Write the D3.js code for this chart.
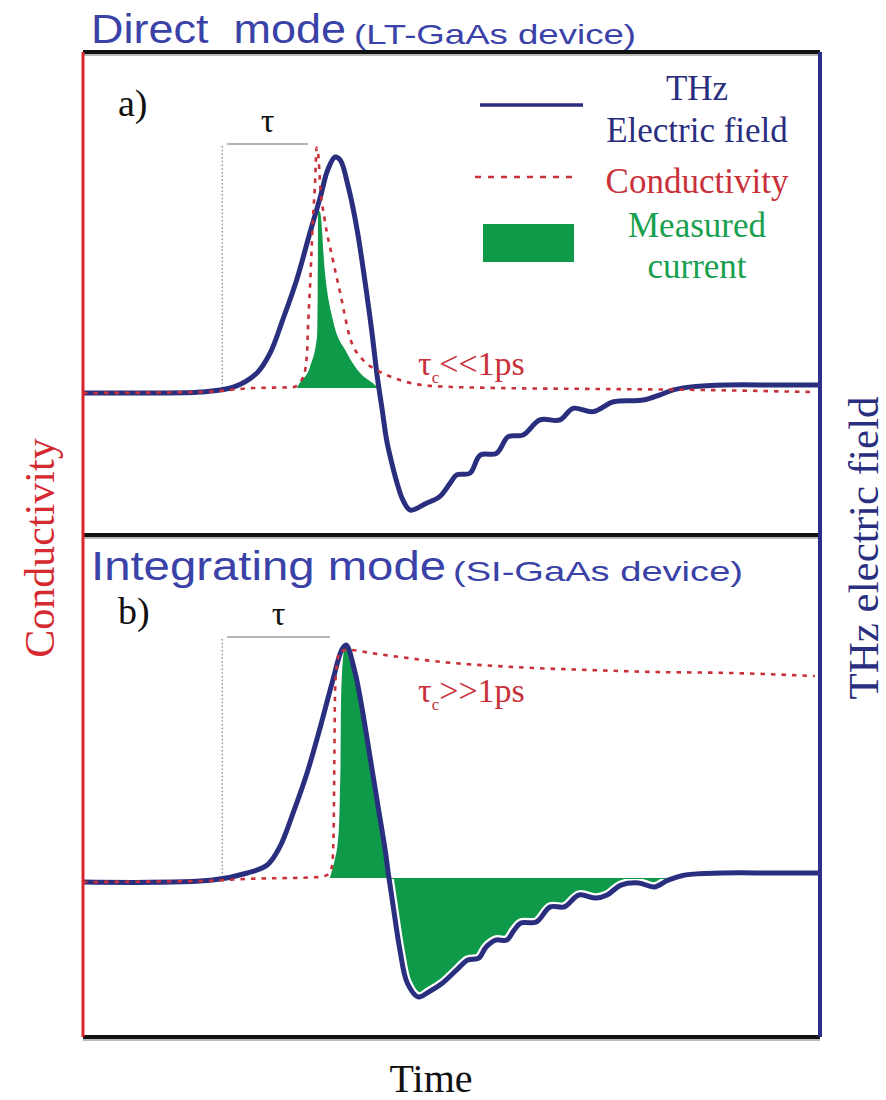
<!DOCTYPE html>
<html>
<head>
<meta charset="utf-8">
<script src="https://cdn.jsdelivr.net/npm/d3@7"></script>
<style>
  html, body { margin: 0; padding: 0; background: #fff; }
  svg { display: block; }
  text { white-space: pre; }
</style>
</head>
<body>
<svg id="chart" width="886" height="1100"></svg>
<script>
// Time in ps (frame spans 0-10 ps); field and conductivity in normalised units (peak field = 1)

// a) Direct mode, LT-GaAs
const fieldDirect = [
  [0, 0], [0.91, 0], [1.59, 0.004], [2.04, 0.025], [2.36, 0.085], [2.54, 0.17], [2.71, 0.31],
  [2.90, 0.48], [3.08, 0.68], [3.22, 0.83], [3.32, 0.945], [3.42, 1.0], [3.49, 0.987],
  [3.60, 0.873], [3.72, 0.69], [3.85, 0.42], [3.92, 0.258], [3.99, 0.076], [4.06, -0.072],
  [4.12, -0.2], [4.19, -0.297], [4.26, -0.38], [4.34, -0.453], [4.44, -0.496], [4.66, -0.467],
  [4.84, -0.439], [4.98, -0.383], [5.07, -0.347], [5.25, -0.340], [5.39, -0.263], [5.61, -0.256],
  [5.77, -0.185], [5.97, -0.178], [6.20, -0.114], [6.47, -0.114], [6.65, -0.065], [6.92, -0.079],
  [7.20, -0.037], [7.60, -0.030], [7.83, -0.008], [8.01, 0.013], [8.28, 0.027], [8.73, 0.034],
  [9.40, 0.034], [10, 0.034]
];
const condDirect = [
  [0, 0], [1.59, 0.004], [2.31, 0.021], [2.85, 0.025], [2.99, 0.068], [3.04, 0.17], [3.05, 0.254],
  [3.08, 0.449], [3.12, 0.733], [3.15, 0.90], [3.17, 1.04], [3.19, 1.017], [3.22, 0.873],
  [3.28, 0.733], [3.39, 0.564], [3.49, 0.424], [3.62, 0.237], [3.80, 0.14], [3.99, 0.097],
  [4.30, 0.055], [4.71, 0.03], [5.66, 0.021], [7.01, 0.017], [8.37, 0.013], [9.91, 0.004]
];
const currentDirect = [
  [2.90, 0.021], [2.94, 0.042], [3.08, 0.11], [3.175, 0.237], [3.185, 0.449], [3.19, 0.775],
  [3.22, 0.763], [3.28, 0.52], [3.39, 0.31], [3.58, 0.17], [3.76, 0.085], [3.93, 0.042], [4.01, 0.021]
];
const currentBaseDirect = 0.021;

// b) Integrating mode, SI-GaAs
const fieldIntegrating = [
  [0, 0], [1.76, 0.008], [2.23, 0.038], [2.50, 0.072], [2.67, 0.148], [2.85, 0.291], [3.04, 0.46],
  [3.22, 0.654], [3.39, 0.852], [3.51, 0.979], [3.57, 1.0], [3.69, 0.886], [3.79, 0.726],
  [3.89, 0.536], [4.00, 0.325], [4.10, 0.135], [4.14, 0.042], [4.21, -0.105], [4.30, -0.287],
  [4.40, -0.426], [4.55, -0.485], [4.69, -0.464], [4.88, -0.426], [5.07, -0.371], [5.22, -0.329],
  [5.37, -0.321], [5.47, -0.274], [5.60, -0.245], [5.75, -0.245], [5.85, -0.203], [5.94, -0.173],
  [6.15, -0.169], [6.34, -0.105], [6.53, -0.105], [6.73, -0.055], [6.96, -0.068], [7.11, -0.055],
  [7.30, -0.013], [7.54, -0.004], [7.75, -0.021], [7.94, 0.008], [8.18, 0.03], [8.66, 0.038],
  [9.40, 0.038], [10, 0.038]
];
const condIntegrating = [
  [0, 0], [1.59, 0.004], [2.23, 0.013], [3.22, 0.021], [3.34, 0.035], [3.38, 0.07], [3.40, 0.2],
  [3.41, 0.5], [3.42, 0.8], [3.45, 0.93], [3.49, 0.975], [3.62, 0.979], [3.91, 0.966],
  [4.88, 0.928], [5.85, 0.907], [6.82, 0.895], [7.79, 0.886], [8.77, 0.882], [9.93, 0.869]
];
const currentIntegrating = [
  [3.35, 0.017], [3.45, 0.148], [3.49, 0.43], [3.51, 0.852], [3.55, 0.99], [3.57, 1.0],
  [3.69, 0.886], [3.79, 0.726], [3.89, 0.536], [4.00, 0.325], [4.10, 0.135], [4.14, 0.042],
  [4.21, -0.105], [4.30, -0.287], [4.40, -0.426], [4.55, -0.485], [4.69, -0.464], [4.88, -0.426],
  [5.07, -0.371], [5.22, -0.329], [5.37, -0.321], [5.47, -0.274], [5.60, -0.245], [5.75, -0.245],
  [5.85, -0.203], [5.94, -0.173], [6.15, -0.169], [6.34, -0.105], [6.53, -0.105], [6.73, -0.055],
  [6.96, -0.068], [7.11, -0.055], [7.30, -0.013], [7.54, -0.004], [7.75, -0.021], [7.94, 0.017]
];
const currentBaseIntegrating = 0.017;

// delay marker: start of the THz pulse to the conductivity rise (ps)
const tauStart = 1.89;
const tauEndDirect = 3.05;
const tauEndIntegrating = 3.35;

// text
const panelTitles = ["Direct  mode", "Integrating mode"];
const panelDevices = ["(LT-GaAs device)", "(SI-GaAs device)"];
const panelLetters = ["a)", "b)"];
const lifetimeLabels = ["<<1ps", ">>1ps"];
const legendLabels = [["THz", "Electric field"], ["Conductivity"], ["Measured", "current"]];
const axisLabels = { time: "Time", left: "Conductivity", right: "THz electric field" };

// ---------------------------------------------------------------------------
const NAVY = "#2a2e7e", RED = "#c9313a", GREEN = "#0f9a4a", TITLE = "#3a42a8";
const SERIF = "'Liberation Serif', 'Times New Roman', serif";
const SANS = "'Liberation Sans', Arial, sans-serif";

const frame = { left: 83, right: 820, top: 52, mid: 535, bottom: 1037 };
const svg = d3.select("#chart");
svg.append("rect").attr("width", 886).attr("height", 1100).attr("fill", "#fff");

const x = d3.scaleLinear().domain([0, 10]).range([frame.left, frame.right]);

const panels = [
  { field: fieldDirect, cond: condDirect, current: currentDirect, base: currentBaseDirect,
    y: d3.scaleLinear().domain([0, 1]).range([393, 157]), tauEnd: tauEndDirect, tauTop: 1.055,
    halo: false, currentCurve: d3.curveMonotoneX, titleY: 43, titleW: 255, devX: 354, devW: 282,
    letterY: 116, lifeY: 375, bottom: frame.mid },
  { field: fieldIntegrating, cond: condIntegrating, current: currentIntegrating, base: currentBaseIntegrating,
    y: d3.scaleLinear().domain([0, 1]).range([882, 645]), tauEnd: tauEndIntegrating, tauTop: 1.034,
    halo: true, currentCurve: d3.curveCatmullRom.alpha(0.5), titleY: 580, titleW: 355, devX: 453, devW: 290,
    letterY: 624, lifeY: 702, bottom: frame.bottom }
];

const defs = svg.append("defs");

panels.forEach((p, i) => {
  const y = p.y;
  const g = svg.append("g").attr("class", "panel-" + i);

  const fieldLine = d3.line().x(d => x(d[0])).y(d => y(d[1])).curve(d3.curveCatmullRom.alpha(0.5));
  const condLine = d3.line().x(d => x(d[0])).y(d => y(d[1])).curve(d3.curveMonotoneX);
  const area = d3.area().x(d => x(d[0])).y0(y(p.base)).y1(d => y(d[1])).curve(p.currentCurve);

  // measured current
  g.append("path").attr("d", area(p.current)).attr("fill", GREEN);

  // delay marker
  const tauY = y(p.tauTop);
  g.append("line")
    .attr("x1", x(tauStart)).attr("x2", x(tauStart))
    .attr("y1", tauY + 2).attr("y2", y(0.02))
    .attr("stroke", "#8a8a8a").attr("stroke-width", 1.3).attr("stroke-dasharray", "1.5,2.2");
  g.append("line")
    .attr("x1", x(tauStart) + 5).attr("x2", x(p.tauEnd))
    .attr("y1", tauY).attr("y2", tauY)
    .attr("stroke", "#9a9a9a").attr("stroke-width", 1.6);
  g.append("text")
    .attr("x", (x(tauStart) + 5 + x(p.tauEnd)) / 2).attr("y", tauY - 12)
    .attr("text-anchor", "middle").attr("font-family", SERIF).attr("font-size", 34)
    .attr("fill", "#111").text("τ");

  // THz field (white halo below the baseline separates it from the fill)
  if (p.halo) {
    const cid = "below-" + i;
    defs.append("clipPath").attr("id", cid).append("rect")
      .attr("x", frame.left).attr("width", frame.right - frame.left)
      .attr("y", y(p.base) + 1).attr("height", p.bottom - y(p.base));
    g.append("path").attr("d", fieldLine(p.field)).attr("fill", "none")
      .attr("stroke", "#fff").attr("stroke-width", 9.5).attr("clip-path", `url(#${cid})`);
  }
  g.append("path").attr("d", fieldLine(p.field)).attr("fill", "none")
    .attr("stroke", NAVY).attr("stroke-width", 5).attr("stroke-linejoin", "round");

  // conductivity
  g.append("path").attr("d", condLine(p.cond)).attr("fill", "none")
    .attr("stroke", RED).attr("stroke-width", 2.6).attr("stroke-dasharray", "4.5,6");

  // lifetime label
  const life = g.append("text").attr("x", 418).attr("y", p.lifeY)
    .attr("font-family", SERIF).attr("font-size", 34).attr("fill", RED);
  life.append("tspan").text("τ");
  life.append("tspan").attr("font-size", 17).attr("dy", 8).text("c");
  life.append("tspan").attr("dy", -8).text(lifetimeLabels[i]);

  // panel letter
  g.append("text").attr("x", 118).attr("y", p.letterY)
    .attr("font-family", SERIF).attr("font-size", 38).attr("fill", "#111").text(panelLetters[i]);

  // panel title
  g.append("text").attr("x", 91).attr("y", p.titleY)
    .attr("font-family", SANS).attr("font-size", 41).attr("fill", TITLE)
    .attr("textLength", p.titleW).attr("lengthAdjust", "spacingAndGlyphs")
    .text(panelTitles[i]);
  g.append("text").attr("x", p.devX).attr("y", p.titleY + 1)
    .attr("font-family", SANS).attr("font-size", 28).attr("fill", TITLE)
    .attr("textLength", p.devW).attr("lengthAdjust", "spacingAndGlyphs")
    .text(panelDevices[i]);
});

// legend
const lg = svg.append("g").attr("class", "legend");
lg.append("line").attr("x1", 480).attr("x2", 583).attr("y1", 105).attr("y2", 105)
  .attr("stroke", NAVY).attr("stroke-width", 3.5);
lg.append("line").attr("x1", 475).attr("x2", 577).attr("y1", 177).attr("y2", 177)
  .attr("stroke", RED).attr("stroke-width", 2.4).attr("stroke-dasharray", "6,7");
lg.append("rect").attr("x", 483).attr("y", 224).attr("width", 91).attr("height", 38).attr("fill", GREEN);
const legendColors = [NAVY, RED, "#18a04f"];
const legendBaselines = [[100, 142], [193], [237, 278]];
legendLabels.forEach((lines, k) => {
  lines.forEach((t, j) => {
    lg.append("text").attr("x", 697).attr("y", legendBaselines[k][j])
      .attr("text-anchor", "middle").attr("font-family", SERIF).attr("font-size", 35)
      .attr("fill", legendColors[k]).text(t);
  });
});

// frame
const fr = svg.append("g").attr("class", "frame");
[frame.top, frame.mid, frame.bottom].forEach(yy => {
  fr.append("line").attr("x1", frame.left).attr("x2", frame.right).attr("y1", yy + 3).attr("y2", yy + 3)
    .attr("stroke", "#bbb").attr("stroke-width", 2);
  fr.append("line").attr("x1", frame.left).attr("x2", frame.right).attr("y1", yy).attr("y2", yy)
    .attr("stroke", "#111").attr("stroke-width", 4);
});
fr.append("line").attr("x1", frame.left).attr("x2", frame.left).attr("y1", frame.top).attr("y2", frame.bottom)
  .attr("stroke", "#d8262c").attr("stroke-width", 3);
fr.append("line").attr("x1", frame.right).attr("x2", frame.right).attr("y1", frame.top).attr("y2", frame.bottom)
  .attr("stroke", "#2b2f8a").attr("stroke-width", 4);

// axis titles
svg.append("text").attr("x", 431).attr("y", 1092).attr("text-anchor", "middle")
  .attr("font-family", SERIF).attr("font-size", 40).attr("fill", "#111").text(axisLabels.time);
svg.append("text").attr("transform", "translate(54,548) rotate(-90)").attr("text-anchor", "middle")
  .attr("font-family", SERIF).attr("font-size", 42).attr("fill", "#d42a30").text(axisLabels.left);
svg.append("text").attr("transform", "translate(878,548) rotate(-90)").attr("text-anchor", "middle")
  .attr("font-family", SERIF).attr("font-size", 43).attr("fill", NAVY).text(axisLabels.right);
</script>
</body>
</html>
